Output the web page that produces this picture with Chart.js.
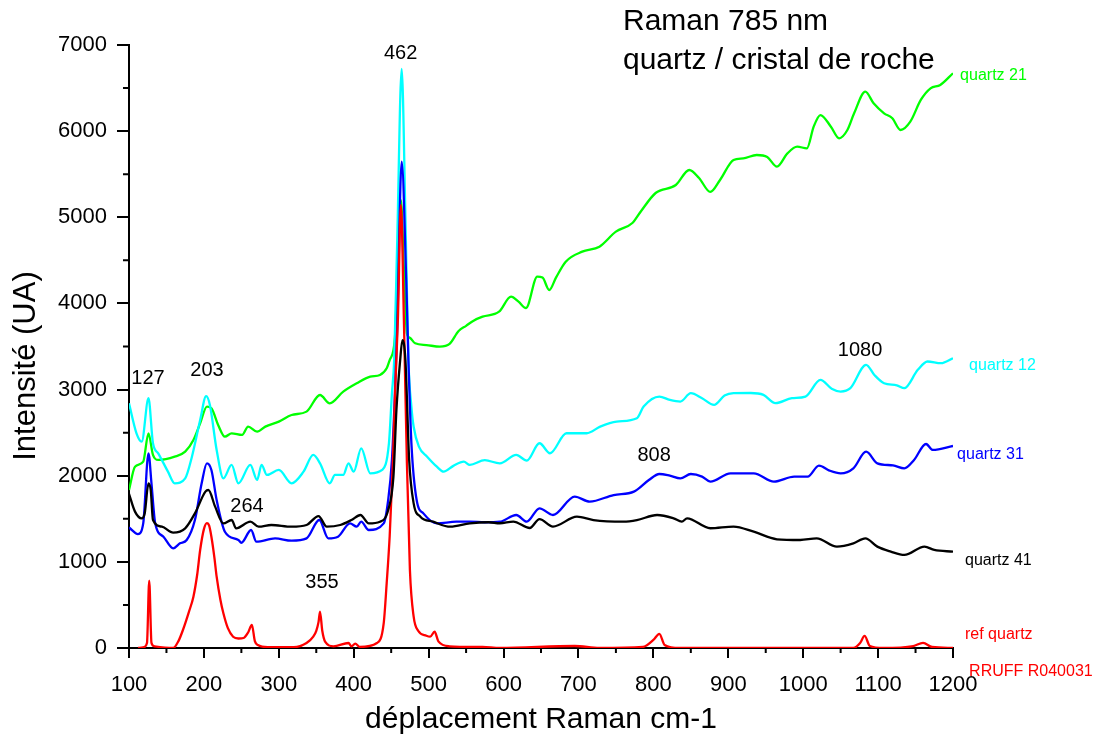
<!DOCTYPE html>
<html>
<head>
<meta charset="utf-8">
<script src="https://cdn.jsdelivr.net/npm/chart.js@4.4.1/dist/chart.umd.min.js"></script>
<style>
  body { margin: 0; background: #fff; }
  #wrap { width: 1105px; height: 747px; position: relative; }
</style>
</head>
<body>
<div id="wrap"><canvas id="spectre"></canvas></div>
<script>
// spectres Raman 785 nm
const refX = [112,120,124,127,130,134,159,166,172,180,186,191,195,200,204,207,210,214,217,222,226,232,239,246,253,259,264,268,272,285,320,337,346,350,353,355,358,362,373,393,397,402,408,431,440,444,448,452,455,459,463,467,471,475,480,486,497,502,508,513,528,572,595,695,728,786,800,808,815,835,1067,1076,1082,1089,1107,1147,1160,1172,1200];
const refY = [0,10,58,781,60,20,0,80,209,420,596,850,1138,1380,1450,1420,1292,1050,828,560,403,230,131,110,116,180,267,80,35,10,10,58,131,200,300,422,200,70,20,58,20,50,12,58,286,753,1300,2100,2918,3830,5143,3800,2144,906,364,200,142,131,189,77,20,12,0,23,0,12,93,165,35,0,0,58,140,23,0,23,60,12,0];

const q41X = [100,108,117,121,126,129,132,144,159,175,188,202,206,215,226,237,243,262,273,290,317,337,353,364,382,397,409,420,435,446,453,457,462,465,469,474,480,489,506,529,555,580,595,613,635,648,666,698,720,760,778,805,827,838,845,876,907,934,965,996,1018,1045,1067,1083,1099,1117,1135,1162,1175,1200];
const q41Y = [1790,1583,1505,1564,1912,1835,1486,1408,1339,1389,1563,1815,1834,1641,1447,1486,1389,1466,1408,1428,1408,1428,1532,1408,1428,1486,1544,1447,1466,1602,1989,2763,3343,3575,3343,2182,1679,1525,1466,1408,1447,1460,1448,1467,1393,1497,1410,1524,1485,1467,1485,1544,1505,1467,1505,1390,1410,1350,1262,1254,1273,1177,1215,1273,1177,1119,1080,1177,1138,1119];

const q31X = [100,112,119,126,130,135,146,159,168,177,188,197,204,210,217,228,246,250,263,270,295,317,337,354,366,379,395,404,410,420,440,446,451,455,458,464,470,473,477,484,493,511,537,555,575,595,617,631,648,666,695,715,747,774,794,808,822,836,850,865,876,903,934,961,988,1006,1021,1035,1050,1067,1084,1099,1120,1135,1148,1164,1173,1200];
const q31Y = [1400,1323,1447,2260,1912,1447,1292,1157,1215,1254,1486,1912,2144,2067,1718,1350,1254,1222,1370,1234,1273,1246,1273,1486,1273,1292,1447,1408,1466,1370,1447,1718,2182,2957,3700,5645,4300,3343,2376,1718,1563,1447,1466,1466,1460,1466,1544,1467,1622,1544,1757,1699,1776,1815,1950,2020,2000,1969,2020,1990,1931,2028,2028,1931,1989,1989,2117,2060,2028,2086,2279,2144,2120,2086,2183,2368,2299,2345];

const q12X = [100,110,117,126,132,139,152,161,175,184,195,203,208,217,226,237,246,262,271,277,284,300,317,333,346,355,368,375,386,393,400,410,422,438,447,451,454,458,464,469,473,477,480,487,498,511,520,533,547,555,575,595,617,631,648,662,684,711,729,751,778,787,808,822,836,850,865,881,895,907,930,947,963,985,1003,1023,1038,1050,1063,1084,1095,1108,1125,1135,1153,1166,1184,1200];
const q12Y = [2840,2492,2395,2899,2376,2260,2047,1912,1970,2221,2647,2925,2821,2299,1970,2125,1912,2125,1951,2125,2009,2067,1912,2047,2241,2144,1912,2009,2009,2144,2047,2318,2028,2067,2376,2957,3343,4700,6722,5000,3343,2800,2569,2337,2221,2105,2047,2114,2163,2125,2180,2144,2241,2176,2377,2261,2493,2493,2570,2628,2667,2803,2919,2880,2861,2958,2900,2822,2930,2958,2960,2938,2842,2900,2919,3113,3010,2977,3016,3287,3170,3074,3050,3016,3229,3326,3306,3364];

const q21X = [100,108,119,126,132,139,161,175,186,195,204,210,219,228,237,251,259,271,282,300,317,337,355,368,386,404,422,435,444,448,455,459,463,467,471,475,482,497,515,528,540,550,560,572,594,610,620,630,645,652,661,670,683,705,728,750,772,783,803,830,848,861,876,889,907,920,938,952,965,979,992,1005,1014,1023,1037,1048,1059,1068,1083,1094,1108,1119,1130,1143,1157,1170,1183,1200];
const q21Y = [1834,2105,2163,2492,2241,2183,2221,2280,2415,2608,2802,2782,2589,2453,2492,2473,2570,2511,2570,2628,2705,2744,2937,2840,2976,3073,3150,3170,3247,3343,3600,4500,5200,4400,3650,3600,3537,3517,3498,3530,3680,3740,3800,3846,3904,4078,4020,3947,4311,4300,4156,4300,4485,4601,4659,4833,4934,5065,5282,5375,5549,5456,5294,5433,5665,5684,5723,5700,5588,5742,5820,5800,6052,6187,6052,5917,6013,6207,6458,6323,6207,6149,6013,6110,6362,6497,6536,6672];

// étiquettes des pics et des courbes (coordonnées en unités du graphe)
const pics = [
  { txt: '462', x: 462.6, y: 6896 },
  { txt: '127', x: 125.4, y: 3123 },
  { txt: '203', x: 204.1, y: 3227 },
  { txt: '264', x: 257.5, y: 1648 },
  { txt: '355', x: 357.7, y: 766 },
  { txt: '808', x: 801, y: 2240 },
  { txt: '1080', x: 1076, y: 3448 }
];
const noms = [
  { txt: 'quartz 21', x: 1209.5, y: 6640, c: '#00ff00' },
  { txt: 'quartz 12', x: 1221.5, y: 3280, c: '#00ffff' },
  { txt: 'quartz 31', x: 1205.5, y: 2240, c: '#0000ff' },
  { txt: 'quartz 41', x: 1216, y: 1020, c: '#000000' },
  { txt: 'ref quartz', x: 1216, y: 150, c: '#ff0000' },
  { txt: 'RRUFF R040031', x: 1221.5, y: -275, c: '#ff0000' }
];

const FONT = '"Liberation Sans", Arial, sans-serif';

function pts(xs, ys) {
  return xs.map((x, i) => ({ x: x, y: ys[i] }));
}

// petites graduations + textes
const decor = {
  id: 'decor',
  afterDraw(chart) {
    const { ctx, scales: { x, y }, chartArea } = chart;
    ctx.save();
    ctx.strokeStyle = '#000';
    ctx.lineWidth = 2;
    ctx.beginPath();
    for (let v = 150; v < 1200; v += 100) {
      const px = x.getPixelForValue(v);
      ctx.moveTo(px, chartArea.bottom);
      ctx.lineTo(px, chartArea.bottom + 5);
    }
    for (let v = 500; v < 7000; v += 1000) {
      const py = y.getPixelForValue(v);
      ctx.moveTo(chartArea.left, py);
      ctx.lineTo(chartArea.left - 6, py);
    }
    ctx.stroke();

    ctx.textBaseline = 'middle';
    ctx.fillStyle = '#000';
    ctx.textAlign = 'center';
    ctx.font = '20px ' + FONT;
    pics.forEach(p => ctx.fillText(p.txt, x.getPixelForValue(p.x), y.getPixelForValue(p.y)));

    ctx.textAlign = 'left';
    ctx.font = '16px ' + FONT;
    noms.forEach(n => {
      ctx.fillStyle = n.c;
      ctx.fillText(n.txt, x.getPixelForValue(n.x), y.getPixelForValue(n.y));
    });

    ctx.fillStyle = '#000';
    ctx.font = '30px ' + FONT;
    ctx.fillText('Raman 785 nm', 623, 22);
    ctx.fillText('quartz / cristal de roche', 623, 61);

    // titre de l'axe Y
    ctx.save();
    ctx.translate(26, 366);
    ctx.rotate(-Math.PI / 2);
    ctx.textAlign = 'center';
    ctx.font = '31px ' + FONT;
    ctx.fillText('Intensité (UA)', 0, 0);
    ctx.restore();
    ctx.restore();
  }
};

const ligne = (lbl, data, col) => ({
  label: lbl, data: data, borderColor: col, borderWidth: 2.3,
  pointRadius: 0, cubicInterpolationMode: 'monotone', fill: false
});

new Chart(document.getElementById('spectre'), {
  type: 'line',
  data: {
    datasets: [
      ligne('quartz 41', pts(q41X, q41Y), '#000000'),
      ligne('ref quartz', pts(refX, refY), '#ff0000'),
      ligne('quartz 31', pts(q31X, q31Y), '#0000ff'),
      ligne('quartz 12', pts(q12X, q12Y), '#00ffff'),
      ligne('quartz 21', pts(q21X, q21Y), '#00ff00')
    ]
  },
  options: {
    responsive: true,
    maintainAspectRatio: false,
    animation: false,
    layout: { padding: { top: 45, right: 152, bottom: 0, left: 0 } },
    plugins: { legend: { display: false }, tooltip: { enabled: false } },
    scales: {
      x: {
        type: 'linear', min: 100, max: 1200,
        afterFit: s => { s.height = 99; },
        ticks: { stepSize: 100, color: '#000', padding: 14, maxRotation: 0,
                 callback: v => String(v),
                 font: { family: FONT, size: 22 } },
        grid: { drawOnChartArea: false, color: '#000', lineWidth: 2, tickLength: 10 },
        border: { color: '#000', width: 2 },
        title: { display: true, text: 'déplacement Raman cm-1', color: '#000',
                 font: { family: FONT, size: 30 }, padding: { top: 0, bottom: 9 } }
      },
      y: {
        min: 0, max: 7000,
        afterFit: s => { s.width = 129; },
        ticks: { stepSize: 1000, color: '#000', padding: 10,
                 callback: v => String(v),
                 font: { family: FONT, size: 22 } },
        grid: { drawOnChartArea: false, color: '#000', lineWidth: 2, tickLength: 12 },
        border: { color: '#000', width: 2 }
      }
    }
  },
  plugins: [decor]
});
</script>
</body>
</html>
